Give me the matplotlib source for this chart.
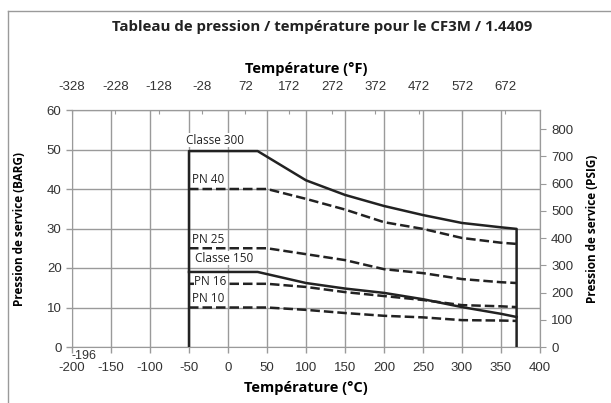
import numpy as np
import matplotlib.pyplot as plt

# temperatures (°C) and pressures (bar)
classe300_t = [-50, -50, 38, 100, 150, 200, 250, 300, 350, 370, 370]
classe300_p = [0, 49.6, 49.6, 42.2, 38.5, 35.7, 33.4, 31.4, 30.3, 29.9, 0]
classe150_t = [-50, 38, 100, 150, 200, 250, 300, 350, 370]
classe150_p = [19.0, 19.0, 16.2, 14.8, 13.7, 12.1, 10.1, 8.4, 7.6]

pn_t = [-50, 50, 100, 150, 200, 250, 300, 350, 370]
pn40_p = [40, 40, 37.5, 34.8, 31.6, 29.9, 27.6, 26.4, 26.1]
pn25_p = [25, 25, 23.5, 22.0, 19.7, 18.7, 17.2, 16.4, 16.2]
pn16_p = [16, 16, 15.2, 13.9, 12.9, 11.9, 10.6, 10.3, 10.1]
pn10_p = [10, 10, 9.4, 8.6, 7.9, 7.5, 6.8, 6.7, 6.6]

labels = ["Classe 300", "PN 40", "PN 25", "Classe 150", "PN 16", "PN 10"]
label_x = [-54, -46, -46, -42, -43, -46]
label_y = [52.4, 42.5, 27.1, 22.5, 16.7, 12.2]

xticks_c = np.arange(-200, 401, 50)
yticks_bar = np.arange(0, 61, 10)
xticks_f = [-328, -228, -128, -28, 72, 172, 272, 372, 472, 572, 672]
yticks_psi = np.arange(0, 801, 100)

plt.rcParams["axes.unicode_minus"] = False

grey = "#9a9a9a"
ink = "#222222"
tick_col = "#333333"

fig = plt.figure(figsize=(6.11, 4.03), dpi=100)
ax = fig.add_axes([72/611, 1-347/403, 468/611, 237/403])

ax.plot(classe300_t, classe300_p, color=ink, lw=1.8, zorder=4)
ax.plot(classe150_t, classe150_p, color=ink, lw=1.8, zorder=4)
for p in [pn40_p, pn25_p, pn16_p, pn10_p]:
    ax.plot(pn_t, p, color=ink, lw=1.8, ls=(0, (3.8, 1.6)), zorder=2)

for s, x, y in zip(labels, label_x, label_y):
    ax.text(x, y, s, fontsize=8.5, family="Open Sans", color=ink, va="center", ha="left",
            zorder=3, bbox=dict(facecolor="white", edgecolor="none", pad=0.6))

ax.text(-201, -0.8, "-196", fontsize=9, family="Liberation Sans", color=tick_col, va="top", ha="left")

ax.set_xlim(-200, 400)
ax.set_ylim(0, 60)
ax.set_xticks(xticks_c)
ax.set_yticks(yticks_bar)
ax.grid(True, color=grey, lw=1)
ax.set_axisbelow(True)
for sp in ax.spines.values():
    sp.set_color(grey)
ax.tick_params(axis="both", colors=grey, labelcolor=tick_col, labelsize=9.5, length=4, width=1)
ax.tick_params(axis="x", pad=7)
for lab in ax.get_xticklabels() + ax.get_yticklabels():
    lab.set_family("Liberation Sans")

c2f = lambda c: c*9/5 + 32
f2c = lambda f: (f - 32)*5/9
top = ax.secondary_xaxis("top", functions=(c2f, f2c))
top.set_xticks(xticks_f)
top.tick_params(direction="in", colors=grey, labelcolor=tick_col, labelsize=9.5, length=3, pad=12)
top.spines["top"].set_color(grey)
for lab in top.get_xticklabels():
    lab.set_family("Liberation Sans")
top.set_xlabel("Température (°F)", fontsize=10.5, fontweight="bold", family="Open Sans", labelpad=6)

b2p = lambda b: b*14.5038
p2b = lambda p: p/14.5038
right = ax.secondary_yaxis("right", functions=(b2p, p2b))
right.set_yticks(yticks_psi)
right.tick_params(colors=grey, labelcolor=tick_col, labelsize=9.5, length=4, pad=4)
right.spines["right"].set_color(grey)
for lab in right.get_yticklabels():
    lab.set_family("Liberation Sans")
right.set_ylabel("Pression de service (PSIG)", fontsize=8.5, fontweight="bold", family="Open Sans",
                 rotation=90, labelpad=9)

ax.set_xlabel("Température (°C)", fontsize=10.5, fontweight="bold", family="Open Sans", labelpad=5)
ax.set_ylabel("Pression de service (BARG)", fontsize=8.5, fontweight="bold", family="Open Sans", labelpad=15)

fig.text(322/611, 1-27/403, "Tableau de pression / température pour le CF3M / 1.4409",
         fontsize=10.8, fontweight="bold", family="Open Sans", ha="center", va="center", color=ink)

# frame around the figure (cut at right and bottom)
fig.add_artist(plt.Line2D([8/611, 8/611], [0, 1-11/403], color=grey, lw=1))
fig.add_artist(plt.Line2D([8/611, 1], [1-11/403, 1-11/403], color=grey, lw=1))

fig.savefig("out.png", dpi=100)
